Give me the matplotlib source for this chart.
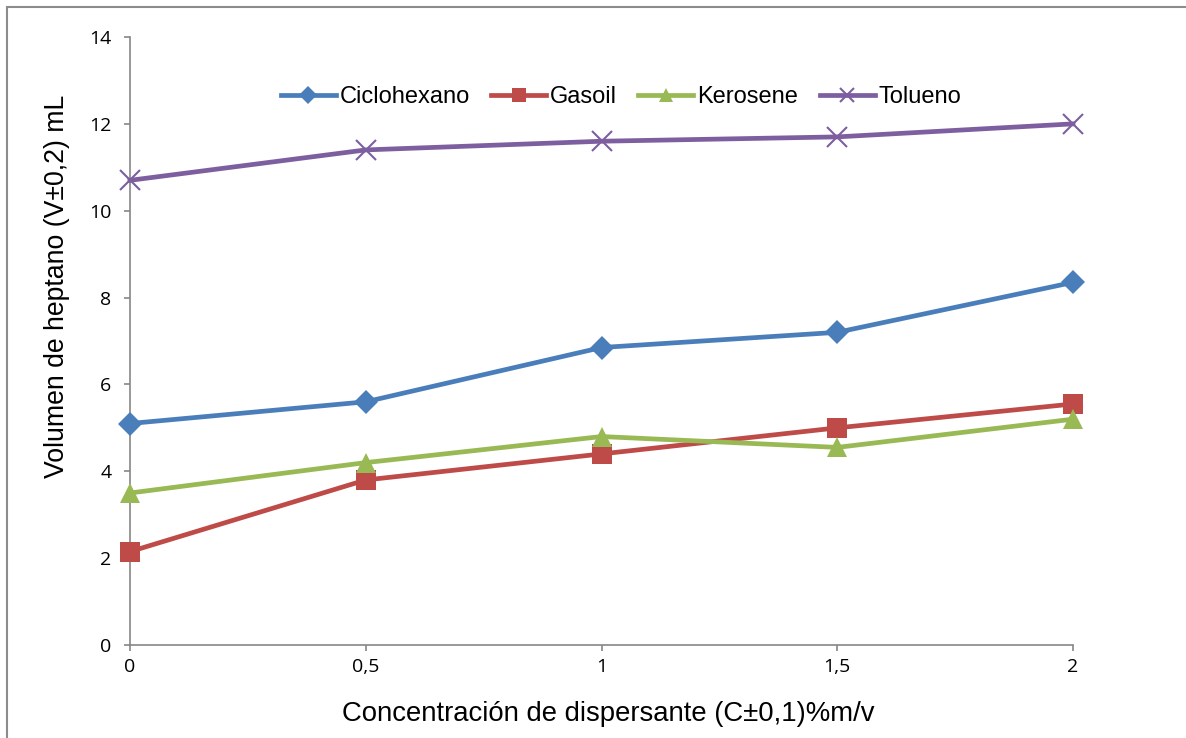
import matplotlib
matplotlib.use('Agg')
import matplotlib.pyplot as plt
import matplotlib.patches as patches

# Data
concentracion = [0, 0.5, 1, 1.5, 2]
x_labels = ['0', '0,5', '1', '1,5', '2']
ciclohexano = [5.1, 5.6, 6.85, 7.2, 8.35]
gasoil = [2.15, 3.8, 4.4, 5.0, 5.55]
kerosene = [3.5, 4.2, 4.8, 4.55, 5.2]
tolueno = [10.7, 11.4, 11.6, 11.7, 12.0]
y_ticks = [0, 2, 4, 6, 8, 10, 12, 14]

AXIS_GRAY = '#868686'
W, H = 1186, 738
AX_L, AX_R, AX_T, AX_B = 130, 1073, 37, 645  # plot area in pixels

fig = plt.figure(figsize=(W / 100, H / 100), dpi=100)
fig.patch.set_facecolor('white')

# Outer chart frame (only top and left edges are visible in the crop)
fig.add_artist(patches.Rectangle(
    (7 / W, -0.05), 1.1, 1 - 7 / H + 0.05, transform=fig.transFigure,
    facecolor='none', edgecolor='#8c8c8c', linewidth=1.5))

ax = fig.add_axes([AX_L / W, 1 - AX_B / H, (AX_R - AX_L) / W, (AX_B - AX_T) / H])

series = [
    ('Ciclohexano', ciclohexano, '#4a7ebb', 'D', 12.5),
    ('Gasoil', gasoil, '#be4b48', 's', 14.5),
    ('Kerosene', kerosene, '#98b954', '^', 14),
    ('Tolueno', tolueno, '#7d5fa0', 'x', 14),
]
for name, vals, color, marker, ms in series:
    ax.plot(concentracion, vals, color=color, linewidth=3.4, marker=marker,
            markersize=ms, markeredgewidth=1.5 if marker == 'x' else 0,
            markerfacecolor=color, markeredgecolor=color, label=name,
            clip_on=False, zorder=3)

ax.set_xlim(0, 2)
ax.set_ylim(0, 14)
ax.set_xticks(concentracion)
ax.set_xticklabels(x_labels)
ax.set_yticks(y_ticks)

for side in ('top', 'right'):
    ax.spines[side].set_visible(False)
for side in ('left', 'bottom'):
    ax.spines[side].set_color(AXIS_GRAY)
    ax.spines[side].set_linewidth(1.2)
ax.tick_params(axis='both', colors=AXIS_GRAY, length=4.3, width=1.2,
               labelcolor='black', labelsize=14)
ax.tick_params(axis='x', pad=5)
ax.tick_params(axis='y', pad=9)
for lbl in ax.get_xticklabels() + ax.get_yticklabels():
    lbl.set_family(['Open Sans', 'DejaVu Sans'])

# "+" underlined in the original reads as ±
ax.set_xlabel('Concentración de dispersante (C±0,1)%m/v',
              fontsize=19.8, family='Liberation Sans')
ax.set_ylabel('Volumen de heptano (V±0,2) mL', fontsize=19.2,
              family='Liberation Sans')
ax.xaxis.label.set_va('baseline')
ax.xaxis.set_label_coords((608 - AX_L) / (AX_R - AX_L),
                          -(721 - AX_B) / (AX_B - AX_T))
ax.yaxis.label.set_va('baseline')
ax.yaxis.set_label_coords(-(AX_L - 64) / (AX_R - AX_L),
                          (AX_B - 286) / (AX_B - AX_T))

ax.legend(loc='center', bbox_to_anchor=((621 - AX_L) / (AX_R - AX_L),
                                        1 - (97 - AX_T) / (AX_B - AX_T)),
          ncol=4, frameon=False, handlelength=2.33, markerscale=0.7,
          columnspacing=0.9, handletextpad=0.17, borderaxespad=0,
          prop={'family': 'Liberation Sans', 'size': 17})

fig.savefig('out.png', dpi=100)
